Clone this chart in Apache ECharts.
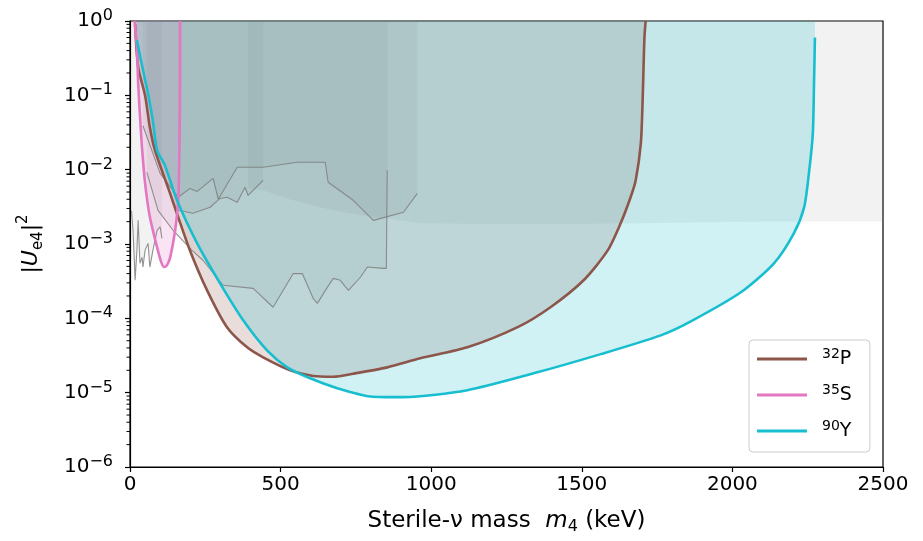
<!DOCTYPE html>
<html><head><meta charset="utf-8">
<script src="https://cdn.jsdelivr.net/npm/echarts@6/dist/echarts.min.js"></script>
<style>html,body{margin:0;padding:0;background:#fff}#c{width:923px;height:541px}</style>
</head><body><div id="c"></div>
<script>
// ---------- data ----------
const xTicks = [0, 500, 1000, 1500, 2000, 2500];
const yTickExponents = [-6, -5, -4, -3, -2, -1, 0];
const minorFactors = [2, 3, 4, 5, 6, 7, 8, 9];

const isotopeNames = ['32P', '35S', '90Y'];

const p32Mass = [17, 27, 50, 66, 83, 133, 160, 199, 256, 322, 389, 442, 532, 608, 675, 741, 854, 964, 1120, 1287, 1396, 1506, 1586, 1629, 1662, 1679, 1696, 1702, 1705, 1708, 1712];
const p32Mix  = [0.9, 0.24, 0.1, 0.037, 0.0182, 0.0048, 0.0023, 0.00082, 0.000238, 7.6e-5, 4.07e-5, 2.99e-5, 2.0e-5, 1.68e-5, 1.64e-5, 1.8e-5, 2.19e-5, 2.9e-5, 4.07e-5, 7.6e-5, 1.41e-4, 3.25e-4, 8.2e-4, 1.9e-3, 4.25e-3, 7.2e-3, 0.0226, 0.0857, 0.238, 0.6, 1];

const s35Mass = [15, 23, 27, 33, 40, 50, 66, 90, 103, 113, 123, 133, 150, 160, 163, 166, 166.5];
const s35Mix  = [1, 0.43, 0.149, 0.054, 0.0193, 0.0066, 0.0023, 0.0009, 0.00058, 0.00049, 0.00052, 0.00065, 0.00153, 0.00387, 0.0098, 0.0857, 1];

const y90Mass = [23, 40, 60, 76, 90, 116, 156, 223, 299, 376, 455, 522, 598, 688, 798, 908, 1120, 1340, 1563, 1762, 1862, 2028, 2138, 2204, 2238, 2254, 2267, 2271, 2274];
const y90Mix  = [0.55, 0.25, 0.105, 0.045, 0.0182, 0.0114, 0.00387, 0.00102, 0.000296, 9.4e-5, 3.7e-5, 2.19e-5, 1.56e-5, 1.15e-5, 8.9e-6, 8.7e-6, 1.08e-5, 1.82e-5, 3.3e-5, 5.9e-5, 9.1e-5, 2.24e-4, 5.5e-4, 1.39e-3, 3.1e-3, 0.0089, 0.0308, 0.145, 0.6];

// existing limits (grey)
const limAMass = [43, 100, 160, 199, 223, 276, 293, 356, 442, 555, 648, 658, 741, 808, 908, 954];
const limAMix  = [0.039, 0.0089, 0.00425, 0.0056, 0.0051, 0.00765, 0.0040, 0.0108, 0.0108, 0.0126, 0.0126, 0.00676, 0.00387, 0.00208, 0.00267, 0.0048];
const limBMass = [160, 209, 266, 299, 322, 356, 382, 392, 442];
const limBMix  = [0.00284, 0.00259, 0.00312, 0.0041, 0.00425, 0.00364, 0.0058, 0.0045, 0.0072];
const limCMass = [56, 93, 143, 206, 243, 309, 409, 475, 542, 572, 608, 622, 655, 675, 698, 725, 765, 788, 841, 851, 854];
const limCMix  = [0.0092, 0.00284, 0.00153, 0.00082, 0.0006, 0.000278, 0.000253, 0.000141, 0.0004, 0.0004, 0.000186, 0.000159, 0.000261, 0.000345, 0.000325, 0.000238, 0.000357, 0.00049, 0.00047, 0.00047, 0.0098];
const limDMass = [5, 10, 17, 23, 27, 33, 40, 43, 50, 60, 66, 76, 90, 100, 106];
const limDMix  = [0.0028, 0.00153, 0.000325, 0.00082, 0.00208, 0.00055, 0.00066, 0.00049, 0.00082, 0.00102, 0.00049, 0.00082, 0.00153, 0.0017, 0.00119];
const limEMass = [392, 442, 530, 632, 750, 854, 964, 1300, 1700, 2100, 2500];
const limEMix  = [0.0056, 0.0053, 0.0040, 0.0031, 0.0025, 0.0022, 0.0019, 0.00185, 0.0019, 0.002, 0.002];

// ---------- chart ----------
const FONT = 'DejaVu Sans';
const pairs = (xs, ys) => xs.map((x, i) => [x, ys[i]]);
const COLORS = {'32P': '#8c564b', '35S': '#e377c2', '90Y': '#17becf'};
const SMOOTH = 0.25;

function greySeries(xs, ys, showLine) {
  return {
    type: 'line', data: pairs(xs, ys), symbol: 'none', silent: true, z: 2,
    lineStyle: {color: '#7f7f7f', width: showLine ? 1.1 : 0, opacity: showLine ? 0.85 : 0},
    areaStyle: {origin: 'end', color: '#808080', opacity: 0.1}
  };
}
function fillSeries(name, xs, ys) {
  return {
    type: 'line', name: name + ' region', data: pairs(xs, ys), symbol: 'none', silent: true, z: 2,
    smooth: SMOOTH,
    lineStyle: {width: 0, opacity: 0},
    areaStyle: {origin: 'end', color: COLORS[name], opacity: 0.2}
  };
}
function curveSeries(name, xs, ys) {
  return {
    type: 'line', name: name, color: COLORS[name], data: pairs(xs, ys), symbol: 'none', silent: true, z: 4,
    smooth: SMOOTH,
    lineStyle: {color: COLORS[name], width: 2.6}
  };
}

const minorTickData = [];
yTickExponents.slice(0, -1).forEach(e => minorFactors.forEach(f => minorTickData.push([0, f * Math.pow(10, e)])));

const supStyle = {fontFamily: FONT, fontSize: 16, verticalAlign: 'top', lineHeight: 16, color: '#000'};

const option = {
  animation: false,
  backgroundColor: '#fff',
  grid: {left: 130, right: 40, top: 21, bottom: 74, show: true, borderColor: '#000', borderWidth: 1.2, backgroundColor: 'transparent'},
  xAxis: {
    type: 'value', min: xTicks[0], max: xTicks[xTicks.length - 1], interval: 500,
    splitLine: {show: false},
    axisLine: {onZero: false, lineStyle: {color: '#000', width: 1.2}},
    axisTick: {length: 5, lineStyle: {color: '#000', width: 1.2}},
    axisLabel: {fontFamily: FONT, fontSize: 20, color: '#000', margin: 8, formatter: v => String(v)},
    name: 'Sterile-ν mass  {i|m}{sub|4} (keV)', nameLocation: 'middle', nameGap: 40,
    nameTextStyle: {fontFamily: FONT, fontSize: 23, color: '#000', lineHeight: 28,
      rich: {i: {fontFamily: FONT, fontSize: 23, fontStyle: 'italic', color: '#000', lineHeight: 28},
             sub: {fontFamily: FONT, fontSize: 16, verticalAlign: 'bottom', lineHeight: 15, color: '#000'}}}
  },
  yAxis: {
    type: 'log', logBase: 10, min: 1e-6, max: 1, splitNumber: 6,
    splitLine: {show: false},
    axisLine: {lineStyle: {color: '#000', width: 1.2}},
    axisTick: {length: 5, lineStyle: {color: '#000', width: 1.2}},
    axisLabel: {
      margin: 17, fontFamily: FONT, fontSize: 20, color: '#000', lineHeight: 26,
      formatter: v => { const e = Math.round(Math.log10(v)); return '{b|10}{s|' + (e < 0 ? '\u2212' + (-e) : e) + '}'; },
      rich: {b: {fontFamily: FONT, fontSize: 20, lineHeight: 26, color: '#000'}, s: supStyle}
    },
    name: '{n||}{i|U}{sub|e4}{n||}{sup|2}', nameLocation: 'middle', nameGap: 84,
    nameTextStyle: {fontFamily: FONT, fontSize: 22, color: '#000', lineHeight: 30,
      rich: {n: {fontFamily: FONT, fontSize: 22, lineHeight: 30, color: '#000'},
             i: {fontFamily: FONT, fontSize: 22, fontStyle: 'italic', lineHeight: 30, color: '#000'},
             sub: {fontFamily: FONT, fontSize: 15, verticalAlign: 'bottom', lineHeight: 15, color: '#000'},
             sup: {fontFamily: FONT, fontSize: 15, verticalAlign: 'top', lineHeight: 15, color: '#000'}}}
  },
  legend: {
    data: isotopeNames, orient: 'vertical', left: 749, top: 340,
    icon: 'rect', itemWidth: 50, itemHeight: 3, itemGap: 12, selectedMode: false,
    padding: [7, 18, 9, 8],
    borderColor: '#cccccc', borderWidth: 1, borderRadius: 4, backgroundColor: 'rgba(255,255,255,0.85)',
    formatter: n => { const m = n.match(/^(\d+)(\D+)$/); return '{s|' + m[1] + '}{e|' + m[2] + '}'; },
    textStyle: {fontFamily: FONT, fontSize: 19, color: '#000', padding: [0, 0, 0, 10], lineHeight: 24,
      rich: {e: {fontFamily: FONT, fontSize: 19, lineHeight: 24, color: '#000'},
             s: {fontFamily: FONT, fontSize: 14, verticalAlign: 'top', lineHeight: 14, color: '#000'}}}
  },
  series: [
    greySeries(limEMass, limEMix, false),
    greySeries(limDMass, limDMix, true),
    greySeries(limCMass, limCMix, true),
    greySeries(limBMass, limBMix, true),
    greySeries(limAMass, limAMix, true),
    fillSeries('35S', s35Mass, s35Mix),
    fillSeries('32P', p32Mass, p32Mix),
    fillSeries('90Y', y90Mass, y90Mix),
    curveSeries('32P', p32Mass, p32Mix),
    curveSeries('35S', s35Mass, s35Mix),
    curveSeries('90Y', y90Mass, y90Mix),
    {
      type: 'custom', data: minorTickData, silent: true, clip: false, z: 10,
      renderItem: (params, api) => {
        const p = api.coord([api.value(0), api.value(1)]);
        return {type: 'line', shape: {x1: p[0] - 3.5, y1: p[1], x2: p[0], y2: p[1]}, style: {stroke: '#000', lineWidth: 1}};
      }
    }
  ]
};
const chart = echarts.init(document.getElementById('c'), null, {renderer: 'canvas'});
chart.setOption(option);
</script></body></html>
